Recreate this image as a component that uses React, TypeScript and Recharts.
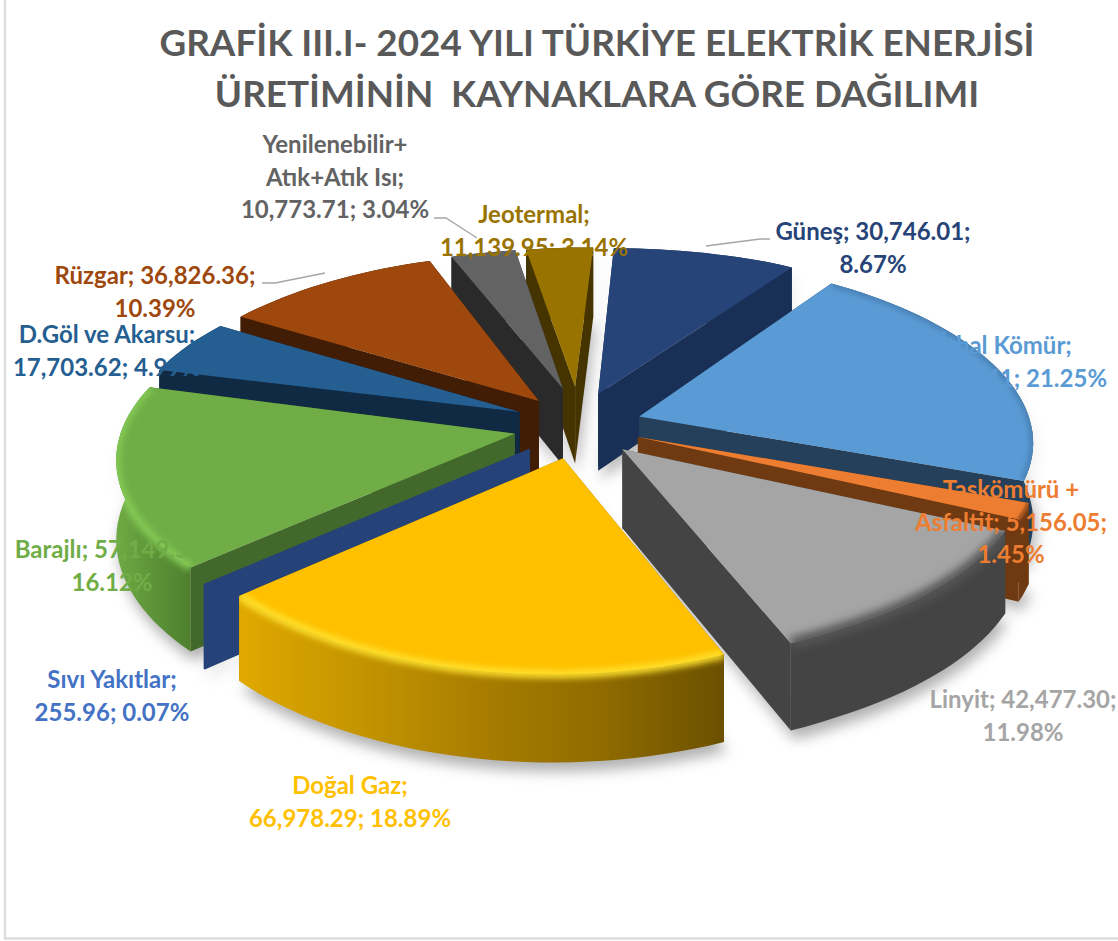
import React from "react";
import { PieChart, Pie } from "recharts";

const categories = ["Güneş", "İthal Kömür", "Taşkömürü + Asfaltit", "Linyit", "Doğal Gaz", "Sıvı Yakıtlar", "Barajlı", "D.Göl ve Akarsu", "Rüzgar", "Yenilenebilir+ Atık+Atık Isı", "Jeotermal"];
const values = [30746.01, 75358.41, 5156.05, 42477.3, 66978.29, 255.96, 57149.53, 17703.62, 36826.36, 10773.71, 11139.95];
const labelLines = [
  ["Güneş; 30,746.01;", "8.67%"],
  ["İthal Kömür;", "75,358.41; 21.25%"],
  ["Taşkömürü +", "Asfaltit; 5,156.05;", "1.45%"],
  ["Linyit; 42,477.30;", "11.98%"],
  ["Doğal Gaz;", "66,978.29; 18.89%"],
  ["Sıvı Yakıtlar;", "255.96; 0.07%"],
  ["Barajlı; 57,149.53;", "16.12%"],
  ["D.Göl ve Akarsu;", "17,703.62; 4.99%"],
  ["Rüzgar; 36,826.36;", "10.39%"],
  ["Yenilenebilir+", "Atık+Atık Isı;", "10,773.71; 3.04%"],
  ["Jeotermal;", "11,139.95; 3.14%"],
];
const titleLines = ["GRAFİK III.I- 2024 YILI TÜRKİYE ELEKTRİK ENERJİSİ", "ÜRETİMİNİN  KAYNAKLARA GÖRE DAĞILIMI"];

const topColors = ["#264478", "#5B9BD5", "#ED7D31", "#A5A5A5", "#FFC000", "#264478", "#70AD47", "#255E91", "#9E480E", "#636363", "#997300"];
const wallColors = ["#1A2F55", "#24405A", "#6F3A12", "#444444", "#866500", "#254379", "#43682B", "#0F2A42", "#401D04", "#2A2A2A", "#453400"];
const textColors = ["#264478", "#5B9BD5", "#ED7D31", "#A5A5A5", "#FFC000", "#4472C4", "#70AD47", "#255E91", "#9E480E", "#636363", "#997300"];
const rimStops: (string[] | null)[] = [null, null, null, null, ["#E0A800", "#C49500", "#A87D00", "#8F6B00", "#6B5000"], null, ["#6DAA45", "#669F3E", "#5C9338", "#558A33", "#4E7F2E"], null, null, null, null];
const bevels: ([string, number, number] | null)[] = [null, ["#3F76A8", 5, 3], ["#A85620", 4, 1], ["#555555", 12, 4], ["#FFE22E", 8, 3], null, ["#84CB54", 8, 3], null, null, null, null];
const paintOrder = [10, 9, 0, 8, 1, 7, 2, 6, 3, 5, 4];
const apexShift = [3, 8, 8, 10, 11, 10, 8, 5, 5, -2, -3];
const labelCenters = [[873, 232], [1006, 346], [1011, 490], [1023, 700], [350, 786], [112, 680], [112, 550], [107, 335], [155, 276], [335, 145], [534, 215]];
const leaders = ["M770 239 L760 239 L706 246", "M262 283 L275 283 L325 273", "M434 218 L446 218 L477 238"];

const rows = categories.map((name, i) => ({ name, value: values[i] }));

const ROT = 3, EXPLODE = 0.165, RY = 0.449, KX = 0.13, KY = 0.174, DEPTH = 78, SHEAR = 5, BUMP_RIGHT = 13, BUMP_LEFT = 2;

type P = [number, number];
const rad = (d: number) => (d * Math.PI) / 180;
const indexOf = (props: any) => rows.findIndex((r) => r.name === props.name);

function geometry(props: any) {
  const { cx, cy, outerRadius: R, startAngle, endAngle } = props;
  const a0 = 90 - startAngle, a1 = 90 - endAngle, mid = (a0 + a1) / 2;
  const ox = EXPLODE * Math.sin(rad(mid)), oy = EXPLODE * Math.cos(rad(mid));
  const top = (X: number, Y: number): P => [cx + (R * X) / (1 + KX * Y), cy - (R * RY * Y) / (1 + KY * Y) - SHEAR * X];
  const low = (X: number, Y: number): P => {
    const p = top(X, Y);
    return [p[0], p[1] + DEPTH / (1 + 0.1 * Y)];
  };
  const arcPts = (f: (X: number, Y: number) => P) => {
    const out: P[] = [];
    const n = Math.max(2, Math.ceil((a1 - a0) / 2));
    for (let k = 0; k <= n; k++) {
      const t = rad(a0 + ((a1 - a0) * k) / n);
      const X = ox + Math.sin(t), Y = oy + Math.cos(t);
      const p = f(X, Y);
      out.push([p[0], p[1] + (X > 0 ? BUMP_RIGHT : BUMP_LEFT) * Math.max(0, 1 - Y * Y)]);
    }
    return out;
  };
  const shift = apexShift[indexOf(props)] ?? 0;
  const a = top(ox, oy), b = low(ox, oy);
  const at: P = [a[0], a[1] + shift], ab: P = [b[0], b[1] + shift];
  const ta = arcPts(top), ba = arcPts(low);
  return { at, ab, ta, ba };
}
const d = (pts: P[], close = true) => "M" + pts.map((p) => p[0].toFixed(1) + " " + p[1].toFixed(1)).join(" L") + (close ? " Z" : "");

function sliceShape(target: number) {
  return (props: any) => {
    const i = indexOf(props);
    if (i !== target) return <g />;
    const { at, ab, ta, ba } = geometry(props);
    const rim = [...ta, ...[...ba].reverse()];
    const stops = rimStops[i];
    const bevel = bevels[i];
    return (
      <g>
        <path d={d([at, ta[0], ba[0], ab])} fill={wallColors[i]} />
        <path d={d([at, ta[ta.length - 1], ba[ba.length - 1], ab])} fill={wallColors[i]} />
        <path d={d(rim)} fill={stops ? `url(#rim${i})` : wallColors[i]} />
        <path d={d([at, ...ta])} fill={topColors[i]} />
        {bevel && (
          <g clipPath={`url(#clip${i})`}>
            <clipPath id={`clip${i}`}>
              <path d={d([at, ...ta])} />
              <path d={d(rim)} />
            </clipPath>
            <path d={d(ta, false)} fill="none" stroke={bevel[0]} strokeWidth={bevel[1]} filter={`url(#blur${Math.round(bevel[2])})`} />
          </g>
        )}
      </g>
    );
  };
}

function shadowShape(props: any) {
  const { ab, ta, ba, at } = geometry(props);
  return (
    <g filter="url(#blur7)" transform="translate(3 9)">
      <path d={d([ab, ...ba])} fill="#000" fillOpacity={0.27} />
      <path d={d([at, ...ta, ...[...ba].reverse()])} fill="#000" fillOpacity={0.06} />
    </g>
  );
}

function renderLabel(props: any) {
  const i = indexOf(props);
  const [x, y] = labelCenters[i];
  return (
    <text key={i} textAnchor="middle" fontFamily="Lato" fontWeight={700} fontSize={24} fill={textColors[i]}>
      {labelLines[i].map((line, k) => (
        <tspan key={k} x={x} y={y + k * 32.5 + 8}>{line}</tspan>
      ))}
    </text>
  );
}

export default function App() {
  const commonProps = {
    data: rows,
    dataKey: "value",
    nameKey: "name",
    cx: 578,
    cy: 418,
    innerRadius: 0,
    outerRadius: 392,
    startAngle: 90 - ROT,
    endAngle: 90 - ROT - 360,
    stroke: "none",
    isAnimationActive: false,
  };
  return (
    <div style={{ position: "absolute", left: 0, top: 0, width: 1118, height: 941, background: "#fff" }}>
      <PieChart width={1118} height={941} margin={{ top: 0, right: 0, bottom: 0, left: 0 }}>
        <defs>
          {[1, 2, 3, 4, 7].map((s) => (
            <filter key={s} id={`blur${s}`} x="-30%" y="-30%" width="160%" height="160%">
              <feGaussianBlur stdDeviation={s} />
            </filter>
          ))}
          {rimStops.map((stops, i) =>
            stops ? (
              <linearGradient key={i} id={`rim${i}`} x1="0" y1="0" x2="1" y2="0">
                {stops.map((c, k) => (
                  <stop key={k} offset={k / (stops.length - 1)} stopColor={c} />
                ))}
              </linearGradient>
            ) : null
          )}
        </defs>
        <path d="M5 0 L5 938.5 L1118 938.5" fill="none" stroke="#DDDDDD" strokeWidth={2.5} />
        {titleLines.map((t, i) => (
          <text key={t} x={597} y={56 + i * 51} textAnchor="middle" fontFamily="Lato" fontWeight={700} fontSize={36.8} fill="#595959" style={{ whiteSpace: "pre" }}>
            {t}
          </text>
        ))}
        <Pie {...commonProps} shape={shadowShape} />
        {paintOrder.map((idx) => (
          <Pie key={idx} {...commonProps} shape={sliceShape(idx)} />
        ))}
        {leaders.map((l) => (
          <path key={l} d={l} fill="none" stroke="#A6A6A6" strokeWidth={1.3} />
        ))}
        <Pie {...commonProps} shape={() => <g />} label={renderLabel} labelLine={false} />
      </PieChart>
    </div>
  );
}
